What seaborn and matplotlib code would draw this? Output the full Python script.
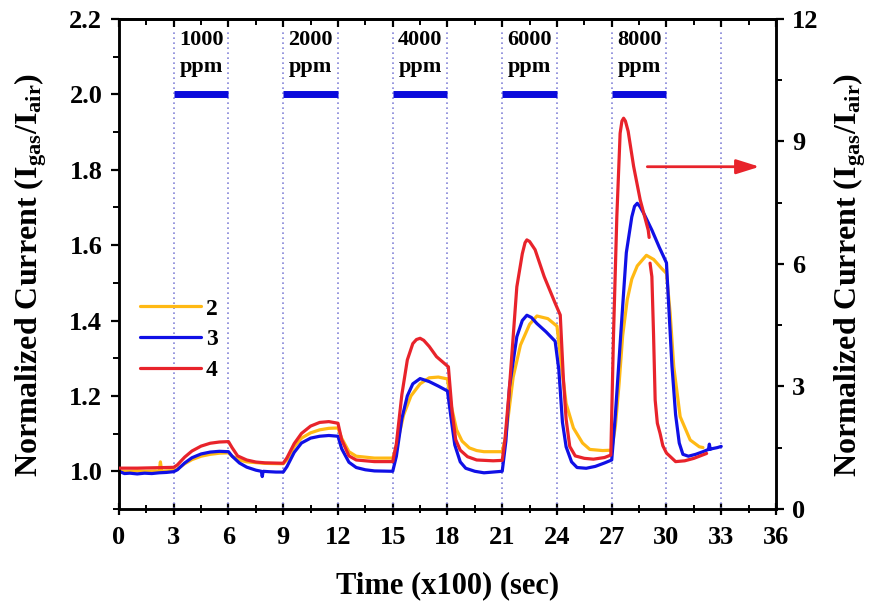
import matplotlib
matplotlib.use("Agg")
import matplotlib.pyplot as plt
from matplotlib.ticker import MultipleLocator
import pandas as pd
import seaborn as sns

# ---- response data: time in units of 100 s ----
# sample 2 (left axis)
t_s2 = [0, 0.5, 1.0, 1.5, 2.0, 2.2, 2.27, 2.34, 2.6, 3.0, 3.2, 3.6, 4.0, 4.5, 5.0, 5.5,
        6.0, 6.2, 6.6, 7.0, 8.0, 9.0, 9.2, 9.6, 10.0, 10.5, 11.0, 11.5, 12.0, 12.2, 12.6,
        13.0, 14.0, 15.0, 15.2, 15.6, 16.0, 16.5, 17.0, 17.5, 18.0, 18.2, 18.5, 18.8,
        19.2, 19.6, 20.0, 21.0, 21.2, 21.6, 22.0, 22.5, 22.9, 23.5, 24.0, 24.2, 24.5,
        24.9, 25.4, 25.8, 26.5, 27.0, 27.2, 27.4, 27.6, 27.85, 28.1, 28.4, 28.9, 29.3,
        29.7, 30.0, 30.2, 30.4, 30.75, 31.3, 31.8, 32.0]
v_s2 = [1.000, 1.000, 1.001, 1.000, 1.001, 1.000, 1.025, 1.000, 1.001, 1.002, 1.006,
        1.020, 1.031, 1.040, 1.045, 1.048, 1.049, 1.040, 1.030, 1.025, 1.021, 1.020,
        1.030, 1.065, 1.088, 1.102, 1.110, 1.114, 1.115, 1.088, 1.052, 1.040, 1.035,
        1.035, 1.065, 1.150, 1.200, 1.232, 1.248, 1.250, 1.245, 1.175, 1.110, 1.080,
        1.062, 1.055, 1.052, 1.052, 1.095, 1.250, 1.335, 1.390, 1.412, 1.405, 1.385,
        1.300, 1.180, 1.115, 1.075, 1.058, 1.055, 1.056, 1.120, 1.230, 1.360, 1.455,
        1.510, 1.545, 1.573, 1.562, 1.540, 1.525, 1.420, 1.277, 1.145, 1.083, 1.065,
        1.063]

# sample 3 (left axis)
t_s3 = [0, 0.3, 0.6, 1.0, 1.4, 1.8, 2.2, 2.6, 3.0, 3.2, 3.6, 4.0, 4.5, 5.0, 5.5, 6.0,
        6.2, 6.6, 7.0, 7.5, 7.8, 7.85, 7.9, 8.2, 8.6, 9.0, 9.2, 9.6, 10.0, 10.5, 11.0,
        11.5, 12.0, 12.2, 12.6, 13.0, 13.5, 14.0, 15.0, 15.2, 15.5, 15.8, 16.1, 16.5,
        17.0, 17.5, 18.0, 18.2, 18.4, 18.7, 19.0, 19.5, 20.0, 20.5, 21.0, 21.2, 21.4,
        21.8, 22.1, 22.35, 22.6, 22.9, 23.4, 23.9, 24.1, 24.3, 24.5, 24.8, 25.1, 25.6,
        26.1, 26.6, 27.0, 27.2, 27.5, 27.8, 28.1, 28.25, 28.4, 28.55, 28.8, 29.2, 29.6,
        30.0, 30.1, 30.3, 30.5, 30.7, 30.9, 31.2, 31.6, 32.0, 32.3, 32.35, 32.4, 32.5,
        32.8, 33.0]
v_s3 = [1.000, 0.994, 0.995, 0.993, 0.995, 0.994, 0.996, 0.997, 0.999, 1.004, 1.022,
        1.036, 1.046, 1.051, 1.053, 1.052, 1.040, 1.022, 1.011, 1.003, 1.000, 0.986,
        1.000, 0.999, 0.998, 0.998, 1.012, 1.050, 1.075, 1.088, 1.093, 1.095, 1.093,
        1.060, 1.024, 1.010, 1.004, 1.001, 1.000, 1.040, 1.140, 1.200, 1.232, 1.246,
        1.238, 1.226, 1.213, 1.140, 1.070, 1.025, 1.008, 1.000, 0.996, 0.998, 1.000,
        1.080, 1.225, 1.357, 1.400, 1.414, 1.408, 1.392, 1.370, 1.345, 1.270, 1.130,
        1.065, 1.025, 1.010, 1.008, 1.013, 1.022, 1.030, 1.150, 1.367, 1.580, 1.675,
        1.703, 1.711, 1.702, 1.680, 1.640, 1.595, 1.553, 1.460, 1.280, 1.150, 1.075,
        1.045, 1.040, 1.045, 1.052, 1.058, 1.072, 1.058, 1.060, 1.063, 1.066]

# sample 4 (right axis), recorded in two segments
t_s4 = [0, 1.0, 2.0, 3.0, 3.2, 3.6, 4.0, 4.5, 5.0, 5.5, 6.0, 6.2, 6.5, 7.0, 7.5, 8.0,
        9.0, 9.2, 9.6, 10.0, 10.5, 11.0, 11.5, 12.0, 12.2, 12.6, 13.0, 14.0, 15.0,
        15.2, 15.5, 15.8, 16.1, 16.3, 16.5, 16.7, 17.0, 17.4, 18.05, 18.25, 18.45,
        18.7, 19.1, 19.6, 20.5, 21.0, 21.15, 21.4, 21.8, 22.1, 22.25, 22.35, 22.5,
        22.8, 23.3, 23.9, 24.18, 24.35, 24.5, 24.7, 25.0, 25.5, 26.0, 26.6, 26.95,
        27.1, 27.28, 27.46, 27.56, 27.65, 27.75, 27.9, 28.2, 28.56, 29.0, 29.05,
        29.1, 29.2, 29.29, 29.38, 29.5, 29.65, 29.8, 30.0, 30.5, 31.0, 31.5, 32.2]
v_s4 = [1.00, 1.00, 1.01, 1.02, 1.08, 1.27, 1.42, 1.54, 1.61, 1.64, 1.65, 1.50, 1.30,
        1.20, 1.15, 1.13, 1.12, 1.25, 1.60, 1.85, 2.03, 2.12, 2.14, 2.10, 1.70, 1.30,
        1.20, 1.16, 1.16, 1.60, 2.80, 3.65, 4.05, 4.15, 4.18, 4.13, 3.98, 3.73, 3.48,
        2.40, 1.70, 1.44, 1.28, 1.20, 1.18, 1.19, 1.70, 3.00, 5.44, 6.25, 6.52, 6.59,
        6.55, 6.35, 5.69, 5.04, 4.75, 3.20, 2.20, 1.53, 1.30, 1.24, 1.22, 1.26, 1.32,
        4.30, 7.16, 9.20, 9.50, 9.57, 9.50, 9.25, 8.39, 7.57, 6.83, 6.65,
        6.02, 5.69, 4.30, 2.67, 2.10, 1.85, 1.55, 1.37, 1.16, 1.18, 1.24, 1.36]
seg_s4 = [0] * 76 + [1] * 12

# gas exposure windows
gas_on = [3, 9, 15, 21, 27]
gas_off = [6, 12, 18, 24, 30]
gas_conc = ["1000", "2000", "4000", "6000", "8000"]
switch_marks = [3, 6, 9, 12, 15, 18, 21, 24, 27, 30, 33]

c_s2 = "#FFB914"
c_s3 = "#1010E6"
c_s4 = "#E8232B"

sns.set_theme(style="ticks")
plt.rcParams.update({
    "font.family": ["Liberation Serif", "DejaVu Serif"],
    "font.weight": "bold",
    "axes.labelweight": "bold",
    "mathtext.fontset": "custom",
    "mathtext.rm": "Liberation Serif:bold",
    "mathtext.it": "Liberation Serif:bold",
    "mathtext.bf": "Liberation Serif:bold",
    "axes.edgecolor": "black",
    "axes.labelcolor": "black",
    "text.color": "black",
    "xtick.color": "black",
    "ytick.color": "black",
    "axes.linewidth": 1.8,
})

df2 = pd.DataFrame({"t": t_s2, "v": v_s2})
df3 = pd.DataFrame({"t": t_s3, "v": v_s3})
df4 = pd.DataFrame({"t": t_s4, "v": v_s4, "seg": seg_s4})

fig = plt.figure(figsize=(8.71, 6.10), dpi=100)
fig.patch.set_facecolor("white")
ax = fig.add_axes([0.1366, 0.1656, 0.7543, 0.8033])
ax.patch.set_facecolor("none")

# switching guides and exposure bars
ax.vlines(switch_marks, 0.9, 2.172, colors="#8585D8", linestyles=(0, (1, 2)),
          lw=1.2, zorder=1)
ax.hlines([2.0] * len(gas_on), gas_on, gas_off, colors="#0A0ADC", lw=5.0, zorder=2)
for s, e, c in zip(gas_on, gas_off, gas_conc):
    ax.text((s + e) / 2, 2.131, c, ha="center", va="baseline", fontsize=16,
            fontweight="bold")
    ax.text((s + e) / 2, 2.059, "ppm", ha="center", va="baseline", fontsize=16,
            fontweight="bold")

sns.lineplot(data=df2, x="t", y="v", color=c_s2, lw=2.3, sort=False,
             estimator=None, ax=ax, zorder=3)
sns.lineplot(data=df3, x="t", y="v", color=c_s3, lw=2.3, sort=False,
             estimator=None, ax=ax, zorder=3)

ax2 = ax.twinx()
sns.lineplot(data=df4, x="t", y="v", units="seg", color=c_s4, lw=2.3, sort=False,
             estimator=None, ax=ax2, zorder=3)

ax.set_xlim(0, 36)
ax.set_ylim(0.9, 2.2)
ax2.set_ylim(0, 12)

ax.xaxis.set_major_locator(MultipleLocator(3))
ax.xaxis.set_minor_locator(MultipleLocator(1.5))
ax.yaxis.set_major_locator(MultipleLocator(0.2))
ax.yaxis.set_minor_locator(MultipleLocator(0.1))
ax2.yaxis.set_major_locator(MultipleLocator(3))
ax2.yaxis.set_minor_locator(MultipleLocator(1.5))

ax.tick_params(axis="x", which="major", direction="inout", length=9, width=1.6,
               labelsize=19, pad=8, top=False)
ax.tick_params(axis="x", which="minor", direction="inout", length=6, width=1.4,
               top=False)
ax.tick_params(axis="y", which="major", direction="out", length=6, width=1.6,
               labelsize=19, pad=6, right=False)
ax.tick_params(axis="y", which="minor", direction="out", length=4, width=1.4,
               right=False)
ax2.tick_params(axis="y", which="major", direction="out", length=6, width=1.6,
                labelsize=19, pad=5.5, left=False)
ax2.tick_params(axis="y", which="minor", direction="out", length=4, width=1.4,
                left=False)

top = ax.secondary_xaxis("top")
top.xaxis.set_major_locator(MultipleLocator(3))
top.xaxis.set_minor_locator(MultipleLocator(1.5))
top.tick_params(which="major", direction="in", length=6, width=1.6, labeltop=False)
top.tick_params(which="minor", direction="in", length=4.5, width=1.4, labeltop=False)
for a in (ax, ax2, top):
    for sp in a.spines.values():
        sp.set_linewidth(1.8)
        sp.set_color("black")

ylab = r"Normalized Current (I$_{\rm gas}$/I$_{\rm air}$)"
ax.set_ylabel(ylab, fontsize=23, fontweight="bold")
ax.yaxis.set_label_coords(-0.106, 0.478)
ax2.set_ylabel(ylab, fontsize=23, fontweight="bold")
ax2.yaxis.set_label_coords(1.084, 0.478)
ax.set_xlabel("Time (x100) (sec)", fontsize=22, fontweight="bold")
ax.xaxis.set_label_coords(0.5, -0.127)

for lab in ax.get_xticklabels() + ax.get_yticklabels() + ax2.get_yticklabels():
    lab.set_fontweight("bold")

# arrow pointing to the right-hand scale
ax.annotate("", xy=(35.1, 1.808), xytext=(28.95, 1.808),
            arrowprops=dict(arrowstyle="-|>,head_length=0.7,head_width=0.22",
                            color=c_s4, lw=2.0, shrinkA=0, shrinkB=0,
                            mutation_scale=20), zorder=4)

handles = [ax.lines[-2], ax.lines[-1], ax2.lines[0]]
ax2.legend(handles=handles, labels=["2", "3", "4"], loc="upper left",
           bbox_to_anchor=(140 / 871, 1 - 298 / 610), bbox_transform=fig.transFigure,
           frameon=False, prop={"size": 17, "weight": "bold"}, handlelength=2.6,
           handletextpad=0.2, labelspacing=0.4, borderaxespad=0, borderpad=0)

fig.savefig("out.png", dpi=100)
